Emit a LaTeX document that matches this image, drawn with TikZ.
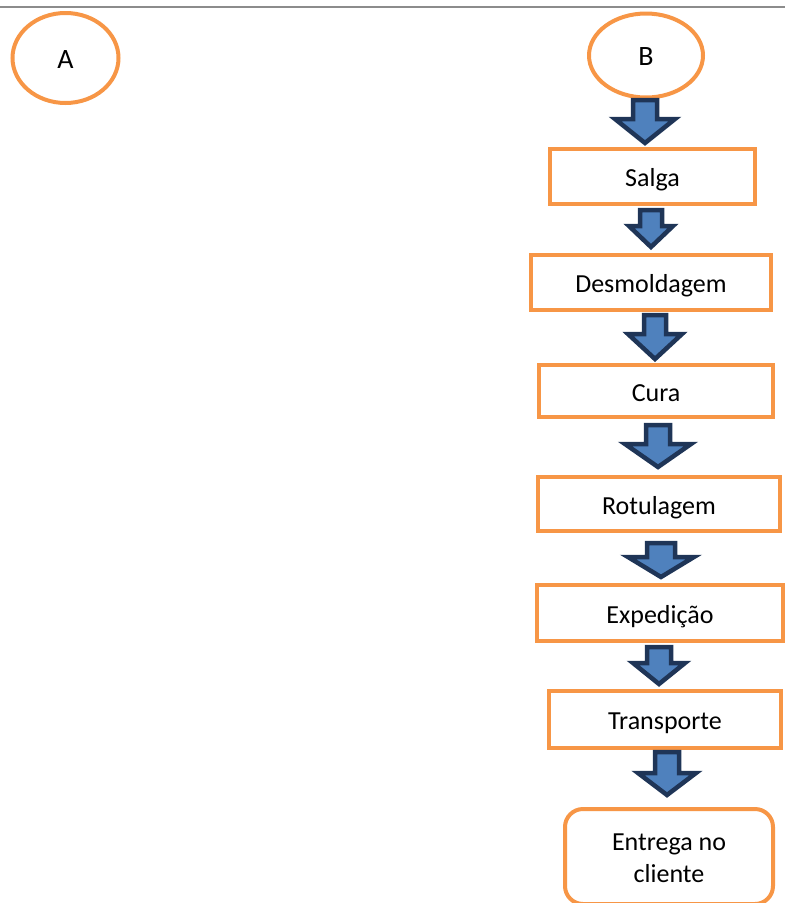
\documentclass[tikz,border=0pt]{standalone}
\usepackage{fontspec}
\setmainfont{Carlito}
\usetikzlibrary{shapes.geometric}
\definecolor{boxorange}{HTML}{F79646}
\definecolor{arrowfill}{HTML}{4F81BD}
\definecolor{arrowline}{HTML}{1F3557}
\definecolor{rulegray}{HTML}{8C8C8C}
% block arrow pointing down: centre x, shaft half width, head half width, top y, neck y, tip y
\newcommand{\downblockarrow}[6]{%
  \draw[blockarrow] (#1-#2,#4) -- (#1+#2,#4) -- (#1+#2,#5) -- (#1+#3,#5)
    -- (#1,#6) -- (#1-#3,#5) -- (#1-#2,#5) -- cycle;}
\begin{document}
\begin{tikzpicture}[x=1pt,y=-1pt,
  every node/.style={font=\fontsize{26}{32}\selectfont, text=black},
  boxtext/.style={text height=25pt, text depth=5pt},
  stepbox/.style={draw=boxorange, line width=4pt, fill=white, rectangle,
    inner sep=0pt, boxtext, minimum width=#1},
  stepbox/.default=200pt,
  endbox/.style={draw=boxorange, line width=4pt, fill=white, rectangle,
    rounded corners=18pt, inner sep=0pt},
  connector/.style={draw=boxorange, line width=4pt, ellipse, inner sep=0pt,
    boxtext, font=\fontsize{28}{32}\selectfont},
  blockarrow/.style={draw=arrowline, fill=arrowfill, line width=4.5pt, line join=miter},
  toprule/.style={draw=rulegray, line width=2pt}]
\useasboundingbox (0,0) rectangle (785,903);

% header rule
\draw[toprule] (0,7) -- (785,7);

% off-page connectors
\node[connector, minimum width=106pt, minimum height=90pt] (A) at (65.5,58) {A};
\node[connector, minimum width=114pt, minimum height=84pt] (B) at (646,55.5) {B};

% process steps
\node[stepbox=205pt, minimum height=55pt] (salga) at (652.5,176.5) {Salga};
\node[stepbox=240pt, minimum height=55pt] (desmold) at (651,282.5) {Desmoldagem};
\node[stepbox=234pt, minimum height=52pt] (cura) at (656,391) {Cura};
\node[stepbox=242pt, minimum height=54pt] (rotul) at (659,504) {Rotulagem};
\node[stepbox=246pt, minimum height=56pt] (exped) at (660,613) {Expedição};
\node[stepbox=232pt, minimum height=57pt] (transp) at (665,719.5) {Transporte};
\node[endbox, minimum width=208pt, minimum height=95pt] (entrega) at (669,856.5) {};
% two-line label; base anchor sits on the last line
\node[align=center, anchor=base] (entregatext) at (669,882) {Entrega no\\cliente};

% flow arrows between the steps
\downblockarrow{645}{12}{30}{100}{119}{143}
\downblockarrow{651}{11}{22}{210}{226}{247}
\downblockarrow{655}{11}{27}{315}{334}{359}
\downblockarrow{658}{12}{33}{425}{444}{467}
\downblockarrow{661}{14}{33}{543}{557}{577}
\downblockarrow{659}{12}{26}{647}{663}{684}
\downblockarrow{667}{12}{29}{752}{773}{795}
\end{tikzpicture}
\end{document}
